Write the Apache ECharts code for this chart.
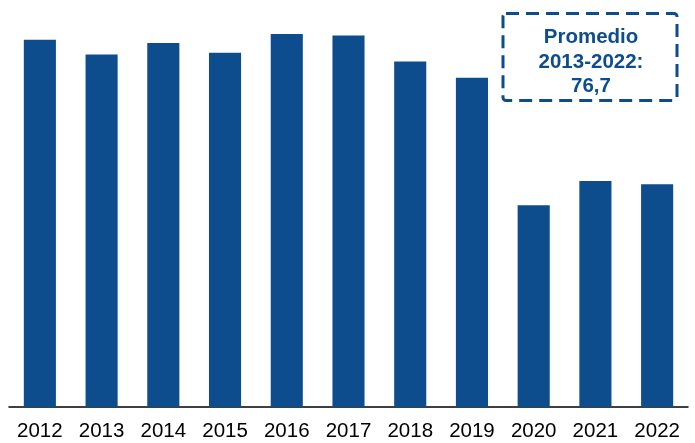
<!DOCTYPE html>
<html>
<head>
<meta charset="utf-8">
<script src="https://cdn.jsdelivr.net/npm/echarts@6/dist/echarts.min.js"></script>
<style>html,body{margin:0;padding:0;background:#fff}#c{width:695px;height:443px}</style>
</head>
<body>
<div id="c"></div>
<script>
const categories = ['2012','2013','2014','2015','2016','2017','2018','2019','2020','2021','2022'];
const values = [89.7, 86.1, 88.9, 86.5, 91.1, 90.7, 84.4, 80.4, 49.3, 55.2, 54.4];
const noteLines = ['Promedio', '2013-2022:', '76,7'];

const chart = echarts.init(document.getElementById('c'), null, {renderer: 'canvas'});
chart.setOption({
  animation: false,
  grid: {left: 9, right: 7, top: 18, bottom: 36},
  xAxis: {
    type: 'category',
    data: categories,
    axisLine: {lineStyle: {color: '#000', width: 1.5}},
    axisTick: {show: false},
    axisLabel: {color: '#000', fontSize: 20.5, fontFamily: 'Liberation Sans, Arial, sans-serif', margin: 14}
  },
  yAxis: {
    type: 'value', min: 0, max: 95,
    show: false, splitLine: {show: false}
  },
  series: [{
    type: 'bar',
    data: values,
    barWidth: '52%',
    itemStyle: {color: '#0d4d8d'}
  }],
  graphic: [
    {
      type: 'rect',
      shape: {x: 503, y: 13.5, width: 174, height: 87, r: 3},
      style: {fill: 'none', stroke: '#0d4d8d', lineWidth: 3, lineDash: [13, 7]}
    },
    {
      type: 'text',
      x: 591, y: 62,
      style: {
        text: noteLines.join('\n'),
        fill: '#0d4d8d',
        font: 'bold 20.5px "Liberation Sans", Arial, sans-serif',
        lineHeight: 24.5,
        align: 'center',
        verticalAlign: 'middle'
      }
    }
  ]
});
</script>
</body>
</html>
